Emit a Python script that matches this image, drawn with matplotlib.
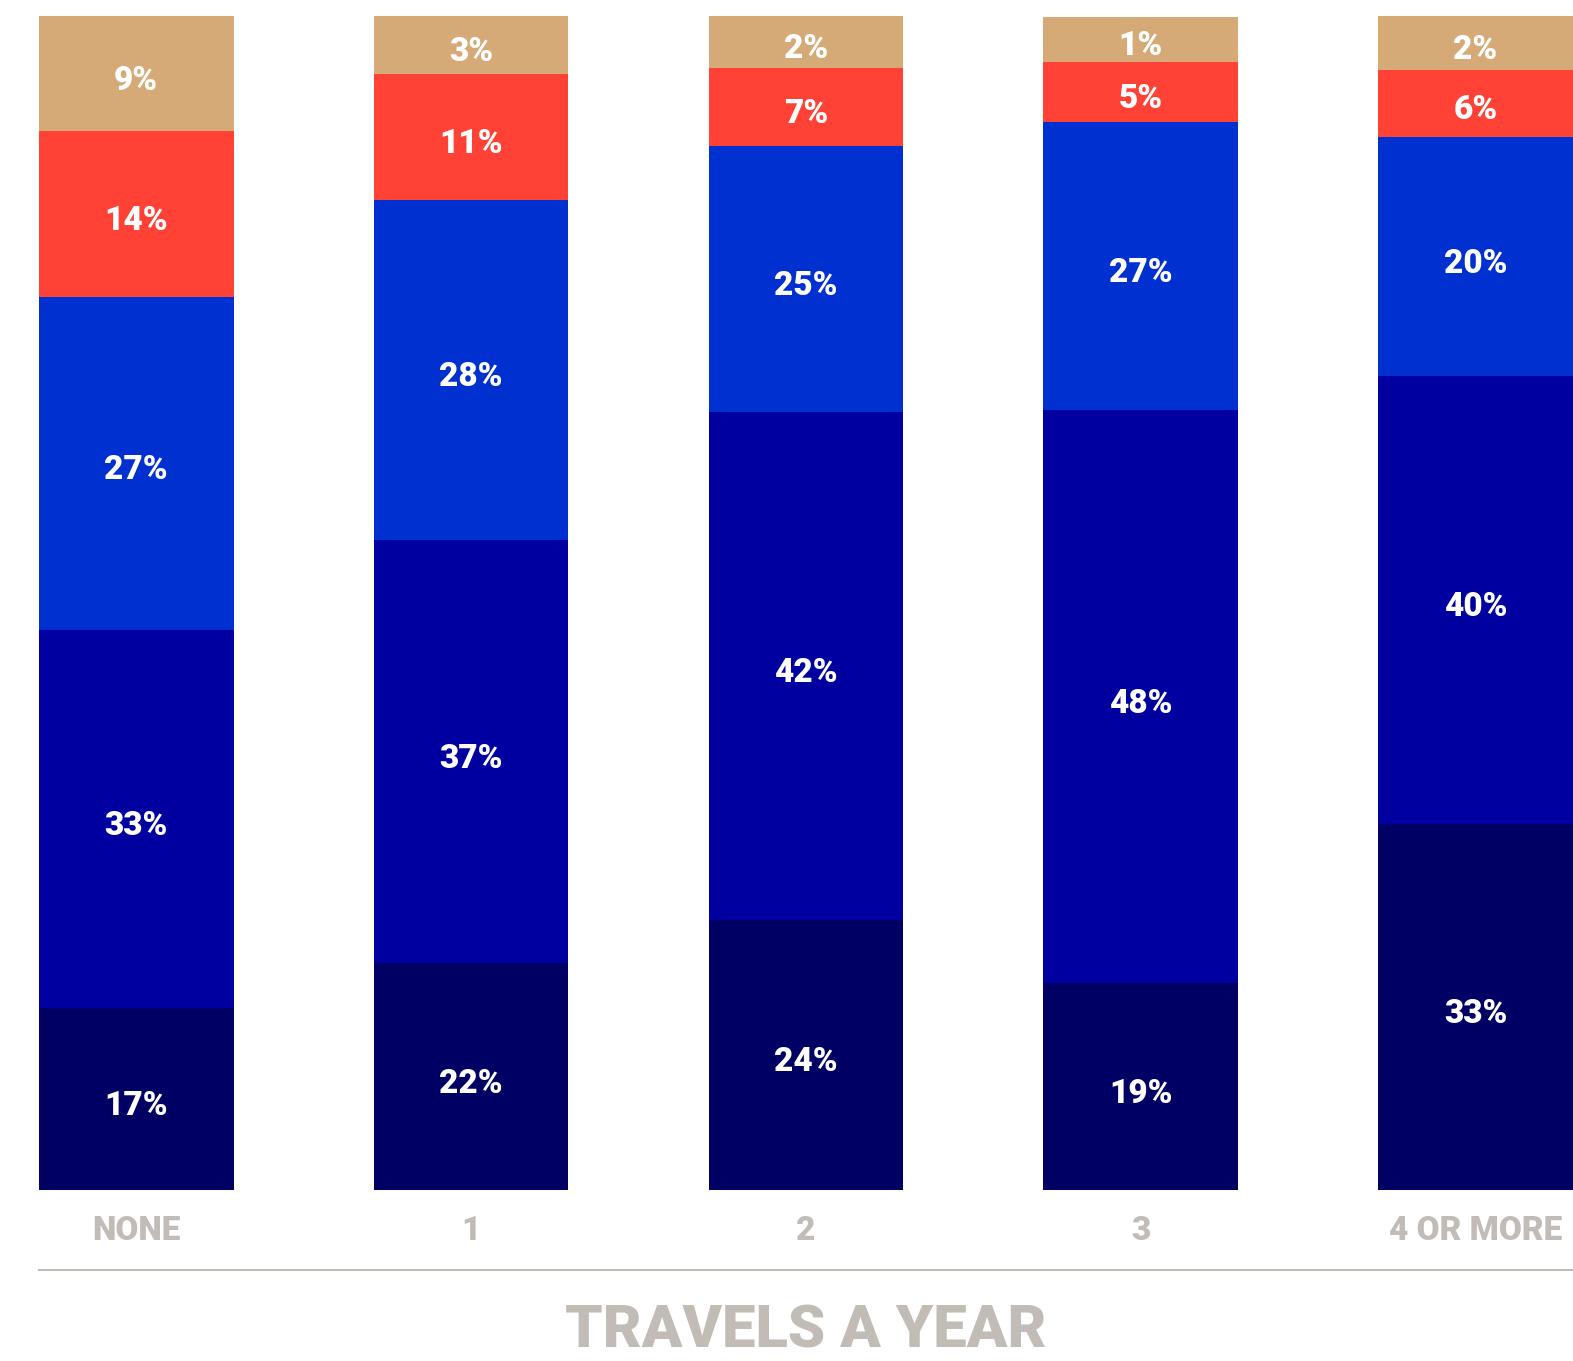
import matplotlib
matplotlib.use("Agg")
import matplotlib.pyplot as plt
import matplotlib.transforms as mtransforms

categories = ["NONE", "1", "2", "3", "4 OR MORE"]

# segment shares (bottom to top)
navy = [15.5, 19.3, 23.0, 17.6, 31.2]
dark = [32.2, 36.1, 43.3, 48.8, 38.1]
blue = [28.4, 28.9, 22.6, 24.6, 20.4]
red = [14.1, 10.8, 6.7, 5.1, 5.7]
tan = [9.8, 4.9, 4.4, 3.8, 4.6]

# printed labels
navy_lbl = [17, 22, 24, 19, 33]
dark_lbl = [33, 37, 42, 48, 40]
blue_lbl = [27, 28, 25, 27, 20]
red_lbl = [14, 11, 7, 5, 6]
tan_lbl = [9, 3, 2, 1, 2]

colors = ["#000064", "#0000A0", "#0030D0", "#FF4136", "#D5AA76"]
grey = "#C1BCB5"
font = ["Roboto", "DejaVu Sans"]

W, H = 1573, 1361
fig = plt.figure(figsize=(W / 100, H / 100), dpi=100)
ax = fig.add_axes([39 / W, 1 - 1270 / H, 1 - 39 / W, (1270 - 16) / H])

x = list(range(len(categories)))
width = 0.581
ax.set_xlim(-width / 2, 4.291)
ax.set_ylim(-6.81, 100)

shift = mtransforms.ScaledTranslation(0, -7 / 100, fig.dpi_scale_trans)

bottoms = [0] * len(categories)
for vals, lbls, col in zip([navy, dark, blue, red, tan],
                           [navy_lbl, dark_lbl, blue_lbl, red_lbl, tan_lbl], colors):
    ax.bar(x, vals, width, bottom=bottoms, color=col, linewidth=0)
    for i in x:
        ax.text(i, bottoms[i] + vals[i] / 2, f"{lbls[i]}%", ha="center", va="center",
                color="white", fontsize=24, fontweight="black", family=font,
                transform=ax.transData + shift)
    bottoms = [b + v for b, v in zip(bottoms, vals)]

for i, c in enumerate(categories):
    ax.text(i, -2.9, c, ha="center", va="center", color=grey, fontsize=24,
            fontweight="black", family=font, transform=ax.transData + shift)

for s in ["top", "right", "left"]:
    ax.spines[s].set_visible(False)
ax.spines["bottom"].set_color(grey)
ax.spines["bottom"].set_linewidth(1.5)
ax.set_xticks([])
ax.set_yticks([])

fig.text(806 / W, 1 - 1360 / H, "TRAVELS A YEAR", ha="center", va="bottom",
         color=grey, fontsize=43, fontweight="black", family=font)

fig.savefig("out.png", dpi=100)
